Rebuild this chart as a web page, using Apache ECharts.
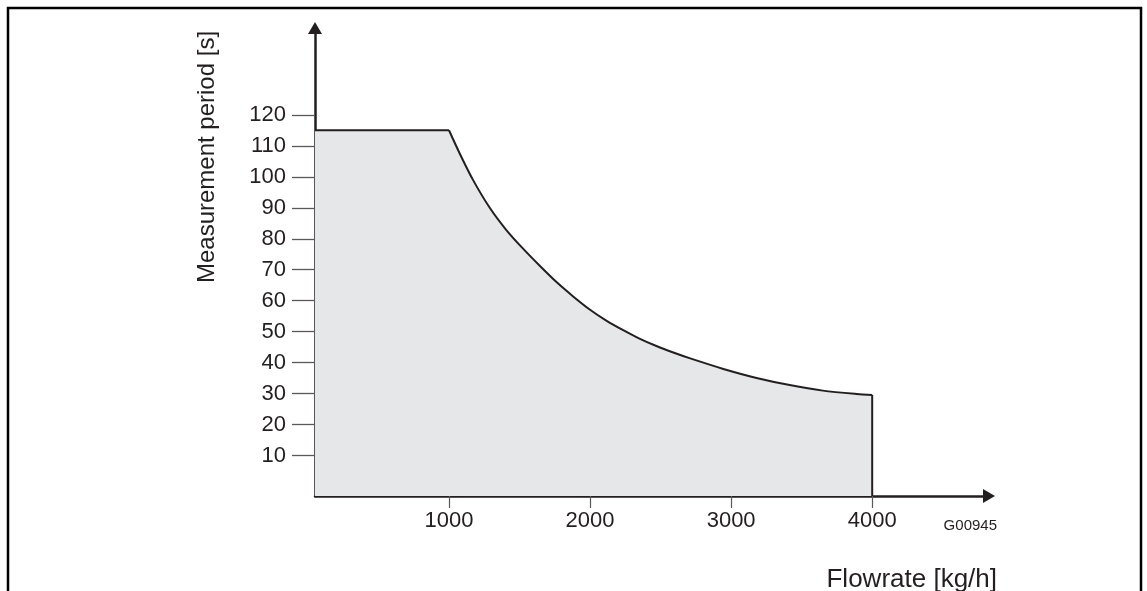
<!DOCTYPE html>
<html>
<head>
<meta charset="utf-8">
<script src="https://cdn.jsdelivr.net/npm/echarts@6/dist/echarts.min.js"></script>
<style>
html,body{margin:0;padding:0;background:#fff;}
#chart{width:1147px;height:591px;}
</style>
</head>
<body>
<div id="chart"></div>
<script>
// Constant measurement period at low flowrate
const flatFlow   = [50, 1000];
const flatPeriod = [115, 115];
// Decreasing period above 1000 kg/h
const curveFlow   = [1000, 1075, 1170, 1290, 1405, 1525, 1645, 1760, 1880, 2000, 2115, 2235, 2350, 2470, 2590, 2710, 2945, 3180, 3415, 3650, 3890, 4000];
const curvePeriod = [115, 107.6, 99.0, 89.9, 82.9, 76.8, 71.2, 66.1, 61.4, 57.1, 53.6, 50.5, 47.8, 45.4, 43.3, 41.4, 38.0, 35.1, 32.8, 31.0, 29.9, 29.6];
// Vertical cut-off at the maximum flowrate
const cutoffX = [4000, 4000];
const cutoffY = [29.6, -3];
// Tick labels
const xTicks = [1000, 2000, 3000, 4000];
const yTicks = [10, 20, 30, 40, 50, 60, 70, 80, 90, 100, 110, 120];
const xTitle = 'Flowrate [kg/h]';
const yTitle = 'Measurement period [s]';
const figCode = 'G00945';

const INK = '#231f20';
const FILL = '#e6e7e8';
const FONT = 'Liberation Sans, Arial, sans-serif';

const pairs = (xs, ys) => xs.map((x, i) => [x, ys[i]]);

const chart = echarts.init(document.getElementById('chart'), null, {renderer: 'canvas'});
chart.setOption({
  animation: false,
  backgroundColor: '#ffffff',
  grid: {left: 315, right: 158, top: 28, bottom: 95, containLabel: false, outerBoundsMode: 'none'},
  xAxis: {
    type: 'value', min: 50, max: 4828,
    splitLine: {show: false},
    axisLine: {show: true, onZero: false, symbol: ['none', 'triangle'], symbolSize: [14, 12],
      lineStyle: {color: INK, width: 2.5}},
    axisTick: {show: true, customValues: xTicks, length: 12, lineStyle: {color: '#58595b', width: 1.2}},
    axisLabel: {customValues: xTicks, formatter: v => String(v), margin: 14, color: INK, fontSize: 22, fontFamily: FONT}
  },
  yAxis: {
    type: 'value', min: -3, max: 148,
    splitLine: {show: false},
    axisLine: {show: true, onZero: false, symbol: ['none', 'triangle'], symbolSize: [14, 12],
      lineStyle: {color: INK, width: 2.5}},
    axisTick: {show: true, customValues: yTicks, length: 23, lineStyle: {color: '#58595b', width: 1.3}},
    axisLabel: {customValues: yTicks, formatter: v => String(v), margin: 29, color: INK, fontSize: 22, fontFamily: FONT}
  },
  series: [
    {
      type: 'line',
      data: pairs(flatFlow, flatPeriod),
      showSymbol: false, symbol: 'none',
      lineStyle: {color: INK, width: 2},
      areaStyle: {color: FILL, opacity: 1, origin: 'start'},
      z: 1
    },
    {
      type: 'line',
      data: pairs(curveFlow, curvePeriod),
      showSymbol: false, symbol: 'none',
      smooth: 0.3,
      lineStyle: {color: INK, width: 2},
      areaStyle: {color: FILL, opacity: 1, origin: 'start'},
      z: 1
    },
    {
      type: 'line',
      data: pairs(cutoffX, cutoffY),
      showSymbol: false, symbol: 'none',
      lineStyle: {color: INK, width: 2},
      z: 2
    }
  ],
  graphic: [
    {type: 'rect', shape: {x: 8, y: 8, width: 1133, height: 620}, style: {fill: 'none', stroke: '#000', lineWidth: 2.5}, silent: true},
    {type: 'text', x: 207, y: 157, rotation: Math.PI / 2,
      style: {text: yTitle, fill: INK, font: '24px ' + FONT, align: 'center', verticalAlign: 'middle'}},
    {type: 'text', x: 997, y: 580,
      style: {text: xTitle, fill: INK, font: '26px ' + FONT, align: 'right', verticalAlign: 'middle'}},
    {type: 'text', x: 997, y: 526,
      style: {text: figCode, fill: INK, font: '15px ' + FONT, align: 'right', verticalAlign: 'middle'}}
  ]
});
</script>
</body>
</html>
